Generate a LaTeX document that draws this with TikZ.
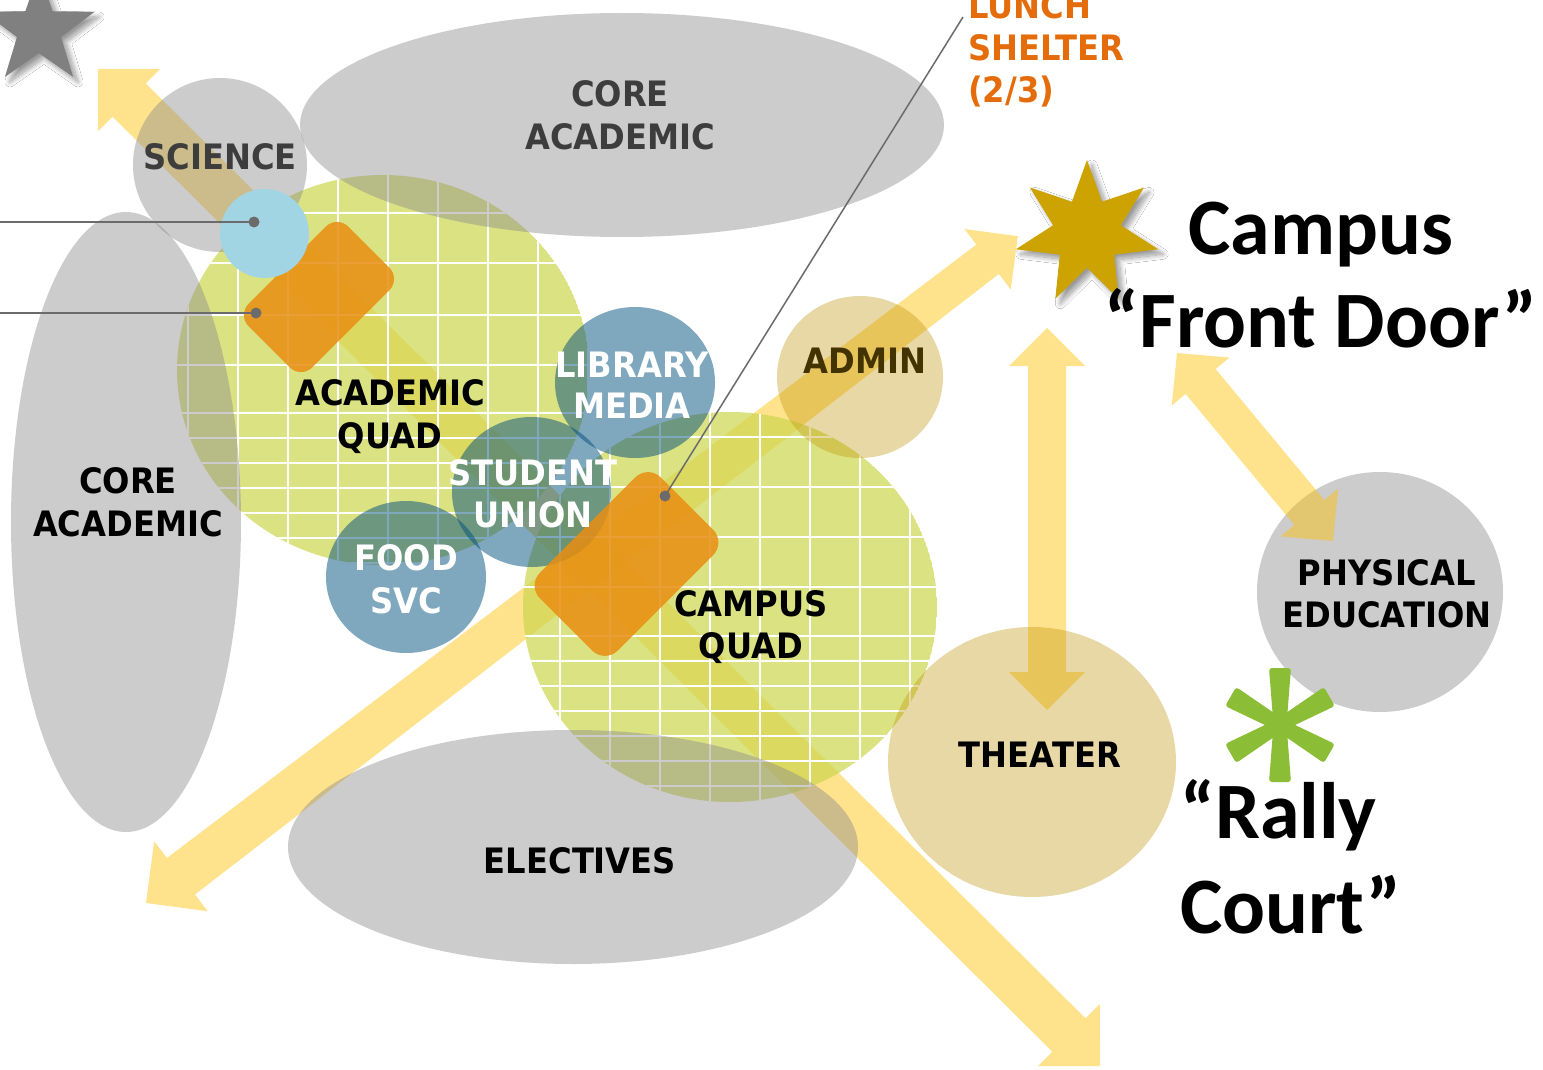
\documentclass[tikz,border=0pt]{standalone}
\usepackage{fontspec}
\usetikzlibrary{calc,shapes.geometric,shadows.blur}
\newfontfamily\labfont{DejaVu Sans}[FakeStretch=0.92]
\newfontfamily\bigfont{Carlito}
\definecolor{arrowgold}{HTML}{FFC000}
\definecolor{quadfill}{HTML}{CDD64E}
\definecolor{graytop}{HTML}{8B8B8B}
\definecolor{bluefill}{HTML}{00507D}
\definecolor{orangefill}{HTML}{E88E12}
\definecolor{lightblue}{HTML}{A2D5E3}
\definecolor{tanfill}{HTML}{BF9000}
\definecolor{calloutgray}{HTML}{6B6B6B}
\definecolor{lunchorange}{HTML}{E46C0A}
\definecolor{starGold}{HTML}{CCA300}
\definecolor{starGray}{HTML}{808080}
\definecolor{asteriskgreen}{HTML}{8CBD37}
\definecolor{labgray}{HTML}{3D3D3D}
\definecolor{admintext}{HTML}{433300}
\newcommand\dblarrow[8]{%
  \fill[arrowfill] let \p1=($(#2)-(#1)$), \n1={veclen(\x1,\y1)}, \n2={atan2(\y1,\x1)} in
   [shift={(#1)}, rotate=\n2]
   (0pt,0pt) -- (#5pt,#4pt) -- (#5pt,#3pt) -- ({\n1-#8pt},#6pt) -- ({\n1-#8pt},#7pt) -- (\n1,0pt)
   -- ({\n1-#8pt},-#7pt) -- ({\n1-#8pt},-#6pt) -- (#5pt,-#3pt) -- (#5pt,-#4pt) -- cycle;}
\begin{document}
\begin{tikzpicture}[x=1pt,y=-1pt,
  arrowfill/.style={fill=arrowgold, fill opacity=0.45},
  quadstyle/.style={fill=quadfill, fill opacity=0.7},
  gridline/.style={draw=white, line width=2.8pt},
  grayshape/.style={fill=graytop, fill opacity=0.44},
  blueshape/.style={fill=bluefill, fill opacity=0.5},
  tanshape/.style={fill=tanfill, fill opacity=0.35},
  orangebox/.style={rectangle, rounded corners=16pt, fill=orangefill, fill opacity=0.85, inner sep=0pt},
  callout/.style={draw=calloutgray, line width=1.8pt},
  dotmark/.style={circle, fill=calloutgray, inner sep=0pt, minimum size=11pt},
  lab/.style={font=\labfont\bfseries\fontsize{35}{42}\selectfont, inner sep=0pt, anchor=base},
  big/.style={font=\bigfont\bfseries\fontsize{80}{95}\selectfont, inner sep=0pt, anchor=base},
  starshadow/.style={blur shadow={shadow xshift=5pt, shadow yshift=-5pt, shadow opacity=40, shadow blur radius=5pt, shadow blur steps=12}}
]
\clip (0,0) rectangle (1543,1070);
\fill[white] (0,0) rectangle (1543,1070);

% arrow end points
\coordinate (a1s) at (98,69);
\coordinate (a1e) at (1100,1066);
\coordinate (a2s) at (146,903);
\coordinate (a2e) at (1018,236);
\coordinate (a3s) at (1047,710);
\coordinate (a3e) at (1047,328);
\coordinate (a4s) at (1177,353);
\coordinate (a4e) at (1333,541);

% yellow circulation arrows (under the quads)
\dblarrow{a1s}{a1e}{23.5}{44}{44}{23.5}{44}{44}
\dblarrow{a2s}{a2e}{23}{44}{44}{18.5}{38}{38}
\dblarrow{a3s}{a3e}{19}{38}{38}{19}{38}{38}

% academic quad with grid
\begin{scope}
  \clip (383,370) ellipse [x radius=206pt, y radius=195pt];
  \fill[quadstyle] (383,370) ellipse [x radius=206pt, y radius=195pt];
  \foreach \gx in {188,238,...,588} \draw[gridline] (\gx,170) -- (\gx,570);
  \foreach \gy in {213,263,315,365,413,438,463,488,513,538,563} \draw[gridline] (170,\gy) -- (600,\gy);
\end{scope}
% campus quad with grid
\begin{scope}
  \clip (730,607) ellipse [x radius=207pt, y radius=195pt];
  \fill[quadstyle] (730,607) ellipse [x radius=207pt, y radius=195pt];
  \foreach \gx in {510,560,...,910} \draw[gridline] (\gx,405) -- (\gx,810);
  \foreach \gy in {437,487,537,587,636,661,686,711,736,761,786} \draw[gridline] (515,\gy) -- (945,\gy);
\end{scope}

% gray building zones
\fill[grayshape] (622,125) ellipse [x radius=322pt, y radius=112pt];
\fill[grayshape] (220,165) circle (87pt);
\fill[grayshape] (126,522) ellipse [x radius=115pt, y radius=310pt];
\fill[grayshape] (573,847) ellipse [x radius=285pt, y radius=117pt];
\fill[grayshape] (1380,592) ellipse [x radius=123pt, y radius=120pt];

\dblarrow{a4s}{a4e}{19.5}{37.5}{37}{19.5}{37.5}{37}

% blue zones
\fill[blueshape] (635,382.5) ellipse [x radius=80pt, y radius=75.5pt];
\fill[blueshape] (531.5,492) ellipse [x radius=79.5pt, y radius=75pt];
\fill[blueshape] (406,577) ellipse [x radius=80pt, y radius=76pt];

% lunch shelters
\node[orangebox, minimum width=141pt, minimum height=90pt, rotate=45] (shelterA) at (319,297) {};
\node[orangebox, minimum width=171pt, minimum height=110pt, rounded corners=18pt, rotate=45] (shelterB) at (626.5,564) {};

% light blue spot
\fill[lightblue] (264.5,233.5) circle (44.5pt);

% tan zones
\fill[tanshape] (860,377) ellipse [x radius=83pt, y radius=81pt];
\fill[tanshape] (1032,762) ellipse [x radius=144pt, y radius=135pt];

% callouts
\coordinate (edgeA) at (0,222);
\coordinate (edgeB) at (0,313);
\coordinate (lunchEnd) at (963,17);
\node[dotmark] (dotA) at (254,222) {};
\node[dotmark] (dotB) at (256,313) {};
\node[dotmark] (dotC) at (665,496) {};
\draw[callout] (edgeA) -- (dotA.center);
\draw[callout] (edgeB) -- (dotB.center);
\draw[callout, line width=1.5pt] (dotC.center) -- (lunchEnd);

% stars
\node[star, star points=5, star point ratio=2.5, minimum size=116pt, inner sep=0pt, fill=starGray, starshadow] (grayStar) at (39,30) {};
\node[star, star points=7, star point ratio=2.1, minimum size=146pt, inner sep=0pt, fill=starGold, starshadow] (goldStar) at (1087,233) {};

% asterisk
\begin{scope}[shift={(1280,725)}]
  \foreach \ang in {90,30,-30,-90,-150,150}
    \fill[asteriskgreen, rotate=\ang, rounded corners=3pt] (0pt,-6.5pt) -- (57pt,-11pt) -- (57pt,11pt) -- (0pt,6.5pt) -- cycle;
  \fill[asteriskgreen] (0,0) circle (10pt);
\end{scope}

% labels
\node[lab, text=labgray] (sci) at (220,170) {SCIENCE};
\node[lab, text=labgray] (coreTop1) at (620,107) {CORE};
\node[lab, text=labgray] (coreTop2) at (620,150) {ACADEMIC};
\node[lab] (acq1) at (390,405) {ACADEMIC};
\node[lab] (acq2) at (390,448) {QUAD};
\node[lab, text=white] (lib1) at (632,377) {LIBRARY};
\node[lab, text=white] (lib2) at (632,418) {MEDIA};
\node[lab, text=admintext] (admin) at (865,373) {ADMIN};
\node[lab, text=white] (su1) at (533,485) {STUDENT};
\node[lab, text=white] (su2) at (533,527) {UNION};
\node[lab, text=white] (food1) at (406,570) {FOOD};
\node[lab, text=white] (food2) at (406,613) {SVC};
\node[lab] (coreLeft1) at (128,493) {CORE};
\node[lab] (coreLeft2) at (128,536) {ACADEMIC};
\node[lab] (cq1) at (751,616) {CAMPUS};
\node[lab] (cq2) at (751,658) {QUAD};
\node[lab] (theater) at (1040,767) {THEATER};
\node[lab] (pe1) at (1387,585) {PHYSICAL};
\node[lab] (pe2) at (1387,627) {EDUCATION};
\node[lab] (electives) at (580,873) {ELECTIVES};
\node[lab, text=lunchorange, anchor=base west] (lunch1) at (968,19) {LUNCH};
\node[lab, text=lunchorange, anchor=base west] (lunch2) at (968,61) {SHELTER};
\node[lab, text=lunchorange, anchor=base west] (lunch3) at (968,103) {(2/3)};

\node[big] (campus) at (1321,254) {Campus};
\node[big] (frontdoor) at (1321,347) {“Front Door”};
\node[big, anchor=base west] (rally) at (1180,838) {“Rally};
\node[big, anchor=base west] (court) at (1180,933) {Court”};
\end{tikzpicture}
\end{document}
